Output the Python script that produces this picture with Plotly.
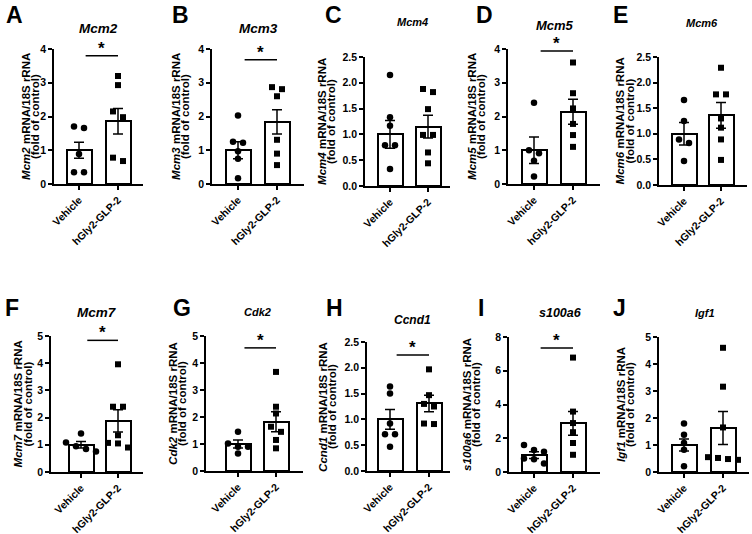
import plotly.graph_objects as go

# ---------------- data ----------------
groups = ["Vehicle", "hGly2-GLP-2"]
genes = ["Mcm2", "Mcm3", "Mcm4", "Mcm5", "Mcm6", "Mcm7", "Cdk2", "Ccnd1", "s100a6", "Igf1"]
letters = ["A", "B", "C", "D", "E", "F", "G", "H", "I", "J"]

y_max = [4, 4, 2.5, 4, 2.5, 5, 5, 2.5, 8, 5]
y_step = [1, 1, 0.5, 1, 0.5, 1, 1, 0.5, 2, 1]

mean_vehicle = [1.0, 1.0, 1.0, 1.0, 1.0, 1.0, 1.0, 1.0, 1.0, 1.0]
mean_glp2 = [1.86, 1.84, 1.15, 2.14, 1.36, 1.88, 1.82, 1.31, 2.88, 1.63]
sem_vehicle = [0.24, 0.25, 0.27, 0.39, 0.22, 0.12, 0.15, 0.19, 0.20, 0.22]
sem_glp2 = [0.38, 0.36, 0.22, 0.37, 0.25, 0.41, 0.37, 0.16, 0.70, 0.61]

pts_vehicle = [
    [1.66, 1.70, 0.89, 0.35, 0.35],
    [2.03, 1.25, 1.22, 0.97, 0.75, 0.17],
    [2.15, 1.33, 1.17, 0.79, 0.79, 0.33],
    [2.41, 1.00, 0.91, 0.69, 0.22],
    [1.66, 1.25, 0.89, 0.82, 0.47],
    [1.42, 1.08, 0.95, 0.85, 0.75],
    [1.45, 1.02, 0.90, 0.90, 0.65],
    [1.64, 1.50, 0.92, 0.71, 0.71, 0.47],
    [1.60, 1.30, 1.20, 0.80, 0.75, 0.50],
    [1.80, 1.38, 1.07, 0.82, 0.21],
]
pts_glp2 = [
    [3.20, 2.93, 2.15, 1.98, 0.68, 0.78],
    [2.87, 2.81, 2.60, 1.31, 0.90, 0.56],
    [1.88, 1.82, 1.49, 0.99, 0.99, 0.65, 0.44],
    [3.60, 2.69, 2.24, 1.78, 1.45, 1.10],
    [2.29, 1.77, 1.77, 1.30, 1.12, 0.89, 0.49],
    [3.96, 2.40, 2.40, 1.35, 1.07, 1.05, 0.90],
    [3.67, 2.38, 2.13, 1.64, 1.45, 1.15, 0.84],
    [1.97, 1.47, 1.25, 1.30, 0.91, 0.92],
    [6.78, 3.58, 2.90, 2.36, 1.72, 1.02],
    [4.60, 3.16, 1.65, 0.55, 0.52, 0.48, 0.45],
]
sig_level = [3.80, 3.68, None, 3.94, None, 4.84, 4.56, 2.25, 7.35, None]

# ---------------- layout geometry (pixels) ----------------
W, H = 752, 534
# axis_left, center0, center1, axis_right, top, bottom
geom = [
    (54, 79, 118, 143, 49, 184),
    (212, 238, 277, 304, 49, 184),
    (365, 390, 428, 450, 57, 186),
    (508, 534, 573, 600, 49, 184),
    (659, 684, 721, 747, 57, 185),
    (51, 81, 118, 143, 336, 472),
    (206, 238, 276, 303, 336, 471),
    (367, 390, 429, 450, 342, 471),
    (509, 534, 573, 600, 337, 472),
    (659, 684, 723, 749, 337, 472),
]
ytitle_x = [30, 180, 327, 476, 625, 23, 177, 327, 471, 625]
gtitle_pos = [(99, 28, 13.5), (258, 28, 13.5), (412, 22, 11), (555, 25, 13), (702, 23, 11),
              (97, 312, 13.5), (257, 312, 11), (412, 320, 12), (560, 313, 12.5), (705, 313, 11)]
letter_pos = [(4, 15), (170, 15), (323, 15), (474, 15), (611, 15),
              (3, 308), (171, 308), (324, 308), (476, 308), (611, 308)]

FONT = "Arial, Liberation Sans, sans-serif"


def px_x(p):
    return p / W


def px_y(p):
    return 1 - p / H


def swarm(values, ppu, step):
    """simple deterministic beeswarm: cluster close values and spread symmetrically"""
    order = sorted(range(len(values)), key=lambda k: -values[k])
    offs = [0.0] * len(values)
    clusters, cur = [], [order[0]]
    for k in order[1:]:
        if abs(values[cur[-1]] - values[k]) * ppu < 6:
            cur.append(k)
        else:
            clusters.append(cur)
            cur = [k]
    clusters.append(cur)
    for cl in clusters:
        n = len(cl)
        for j, k in enumerate(cl):
            offs[k] = (j - (n - 1) / 2) * step
    return offs


fig = go.Figure()
annotations = []
shapes = []

for i in range(10):
    x0, c0, c1, x1, top, bot = geom[i]
    unit = c1 - c0
    xr = [-(c0 - x0) / unit, 1 + (x1 - c1) / unit]
    ppu = (bot - top) / y_max[i]
    xa = "x" if i == 0 else f"x{i+1}"
    ya = "y" if i == 0 else f"y{i+1}"
    xk = "xaxis" if i == 0 else f"xaxis{i+1}"
    yk = "yaxis" if i == 0 else f"yaxis{i+1}"

    fig.add_trace(go.Bar(
        x=[0, 1], y=[mean_vehicle[i], mean_glp2[i]], width=25 / unit,
        marker=dict(color="white", line=dict(color="black", width=2)),
        error_y=dict(type="data", array=[sem_vehicle[i], sem_glp2[i]],
                     color="black", thickness=1.5, width=5),
        xaxis=xa, yaxis=ya, showlegend=False, hoverinfo="skip"))

    step = 10 / unit
    ov = swarm(pts_vehicle[i], ppu, step)
    og = swarm(pts_glp2[i], ppu, step)
    fig.add_trace(go.Scatter(
        x=[0 + o for o in ov], y=pts_vehicle[i], mode="markers",
        marker=dict(symbol="circle", size=6.5, color="black"),
        xaxis=xa, yaxis=ya, showlegend=False, cliponaxis=False))
    fig.add_trace(go.Scatter(
        x=[1 + o for o in og], y=pts_glp2[i], mode="markers",
        marker=dict(symbol="square", size=6, color="black"),
        xaxis=xa, yaxis=ya, showlegend=False, cliponaxis=False))

    nt = int(round(y_max[i] / y_step[i]))
    tv = [k * y_step[i] for k in range(nt + 1)]
    tt = [f"{v:.1f}" if y_step[i] < 1 else f"{v:g}" for v in tv]

    fig.update_layout(**{
        xk: dict(domain=[px_x(x0), px_x(x1)], anchor=ya, range=xr,
                 tickvals=[0, 1], ticktext=groups, tickangle=-45,
                 ticks="outside", ticklen=4, tickwidth=1.5, tickcolor="black",
                 showline=True, linewidth=1.5, linecolor="black",
                 showgrid=False, zeroline=False, fixedrange=True,
                 tickfont=dict(family=FONT, size=10.5, color="black", weight="bold")),
        yk: dict(domain=[px_y(bot), px_y(top)], anchor=xa, range=[0, y_max[i]],
                 tickvals=tv, ticktext=tt,
                 ticks="outside", ticklen=4, tickwidth=1.5, tickcolor="black",
                 showline=True, linewidth=1.5, linecolor="black",
                 showgrid=False, zeroline=False, fixedrange=True,
                 tickfont=dict(family=FONT, size=10.5, color="black", weight="bold")),
    })

    # y-axis title (two tightly spaced lines)
    for dx, txt in ((-4.6, f"<b><i>{genes[i]}</i> mRNA/18S rRNA</b>"),
                    (4.6, "<b>(fold of control)</b>")):
        annotations.append(dict(
            x=px_x(ytitle_x[i] + dx), y=px_y((top + bot) / 2), xref="paper", yref="paper",
            text=txt, textangle=-90, showarrow=False, xanchor="center", yanchor="middle",
            font=dict(family=FONT, size=11.5, color="black")))
    # gene title
    gx, gy, gs = gtitle_pos[i]
    annotations.append(dict(
        x=px_x(gx), y=px_y(gy), xref="paper", yref="paper",
        text=f"<b><i>{genes[i]}</i></b>", showarrow=False,
        xanchor="center", yanchor="middle",
        font=dict(family=FONT, size=gs, color="black")))
    # panel letter
    lx, ly = letter_pos[i]
    annotations.append(dict(
        x=px_x(lx), y=px_y(ly), xref="paper", yref="paper",
        text=f"<b>{letters[i]}</b>", showarrow=False,
        xanchor="left", yanchor="middle",
        font=dict(family=FONT, size=23, color="black")))
    # significance
    if sig_level[i] is not None:
        shapes.append(dict(type="line", xref=xa, yref=ya, x0=0.17, x1=1.0,
                           y0=sig_level[i], y1=sig_level[i],
                           line=dict(color="black", width=1.5)))
        annotations.append(dict(
            x=0.585, y=sig_level[i], xref=xa, yref=ya, text="<b>*</b>",
            showarrow=False, xanchor="center", yanchor="bottom", yshift=-4,
            font=dict(family=FONT, size=17, color="black")))

fig.update_layout(
    width=W, height=H, margin=dict(l=0, r=0, t=0, b=0, autoexpand=False),
    paper_bgcolor="white", plot_bgcolor="white",
    annotations=annotations, shapes=shapes, bargap=0,
    font=dict(family=FONT, color="black"),
)

fig.write_html("out.html", config={"displayModeBar": False},
               post_script="document.body.style.margin='0';")
